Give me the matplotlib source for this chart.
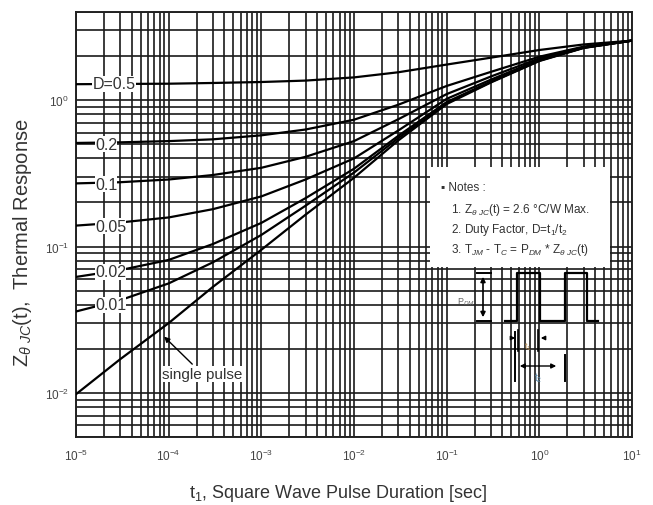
import matplotlib
matplotlib.use("Agg")
import matplotlib.pyplot as plt
from matplotlib.patches import Rectangle
from matplotlib.ticker import NullFormatter, LogLocator, FixedLocator

plt.rcParams['font.family'] = ['Liberation Sans', 'DejaVu Sans']
plt.rcParams['mathtext.fontset'] = 'custom'
plt.rcParams['mathtext.rm'] = 'Liberation Sans'
plt.rcParams['mathtext.it'] = 'Liberation Sans:italic'
plt.rcParams['mathtext.bf'] = 'Liberation Sans:bold'

##### data
t_sec = [1e-5, 3e-5, 1e-4, 3e-4, 1e-3, 3e-3, 1e-2, 3e-2, 1e-1, 3e-1, 1, 3, 10]

z_d50 = [1.285, 1.29, 1.295, 1.31, 1.33, 1.36, 1.43, 1.55, 1.75, 1.95, 2.2, 2.4, 2.55]
z_d20 = [0.51, 0.515, 0.525, 0.54, 0.575, 0.63, 0.735, 0.93, 1.25, 1.56, 1.98, 2.32, 2.55]
z_d10 = [0.27, 0.275, 0.287, 0.308, 0.345, 0.41, 0.525, 0.74, 1.1, 1.45, 1.93, 2.3, 2.55]
z_d05 = [0.139, 0.146, 0.158, 0.18, 0.22, 0.287, 0.40, 0.62, 1.02, 1.38, 1.89, 2.29, 2.55]
z_d02 = [0.062, 0.069, 0.081, 0.104, 0.145, 0.214, 0.34, 0.57, 0.97, 1.34, 1.87, 2.28, 2.55]
z_d01 = [0.036, 0.043, 0.056, 0.078, 0.12, 0.19, 0.32, 0.55, 0.955, 1.33, 1.86, 2.28, 2.55]
z_single = [0.0098, 0.017, 0.030, 0.053, 0.095, 0.165, 0.295, 0.53, 0.94, 1.32, 1.85, 2.27, 2.55]

curves = [z_d50, z_d20, z_d10, z_d05, z_d02, z_d01, z_single]

# curve labels: text, x, y (placed on the left ends of the curves)
label_text = ["D=0.5", "0.2", "0.1", "0.05", "0.02", "0.01"]
label_x = [1.5e-5, 1.6e-5, 1.6e-5, 1.6e-5, 1.6e-5, 1.6e-5]
label_y = [1.29, 0.50, 0.267, 0.138, 0.067, 0.040]

x_decades = [1e-5, 1e-4, 1e-3, 1e-2, 1e-1, 1, 10]
y_decades = [1e-2, 1e-1, 1]

fig = plt.figure(figsize=(6.53, 5.06), dpi=100)
ax = fig.add_axes([76 / 653, 1 - 438 / 506, 556 / 653, 425 / 506])
ax.set_xscale('log')
ax.set_yscale('log')
ax.set_xlim(1e-5, 10)
ax.set_ylim(5e-3, 4)

ax.xaxis.set_major_locator(FixedLocator(x_decades))
ax.yaxis.set_major_locator(FixedLocator(y_decades))
ax.xaxis.set_minor_locator(LogLocator(base=10, subs=range(2, 10), numticks=100))
ax.yaxis.set_minor_locator(LogLocator(base=10, subs=range(2, 10), numticks=100))
ax.xaxis.set_minor_formatter(NullFormatter())
ax.yaxis.set_minor_formatter(NullFormatter())

ax.grid(which='both', color='#1a1a1a', lw=1.2)
ax.tick_params(which='both', length=0, labelsize=8.5, labelcolor='#444')
ax.tick_params(axis='x', pad=8)
ax.tick_params(axis='y', pad=5)
for s in ax.spines.values():
    s.set_linewidth(1.4)
    s.set_color('#222')

for z in curves:
    ax.plot(t_sec, z, color='black', lw=1.6, zorder=3)

for txt, x, y in zip(label_text, label_x, label_y):
    ax.text(x, y, txt, fontsize=11.5, color='#333', ha='left', va='center', zorder=5,
            bbox=dict(facecolor='white', edgecolor='none', pad=0.2))

ax.annotate("single pulse", xy=(8.5e-5, 0.025), xytext=(2.3e-4, 0.0135),
            fontsize=11, color='#333', ha='center', va='center', zorder=5,
            bbox=dict(facecolor='white', edgecolor='none', pad=0.5),
            arrowprops=dict(arrowstyle='-|>', color='black', lw=1.0, mutation_scale=8))

ax.set_xlabel(r"t$_1$, Square Wave Pulse Duration [sec]", fontsize=13, color='#333')
ax.set_ylabel(r"Z$_{\theta\ JC}$(t),  Thermal Response", fontsize=14.5, color='#333')
ax.xaxis.set_label_coords(0.471, -0.105)
ax.yaxis.set_label_coords(-0.075, 0.46)


# pixel position in the picture -> axes fraction, for the notes and pulse sketch
def P(x, y):
    return ((x - 76) / 556, (438 - y) / 425)


tr = ax.transAxes
ax.add_patch(Rectangle(P(430, 268), 180 / 556, 100 / 425, transform=tr,
                       facecolor='white', edgecolor='none', zorder=4))
ax.text(*P(441, 188), "\u25aa Notes :", transform=tr, fontsize=8.5, color='#333', va='center', zorder=6)
ax.text(*P(451, 210), r"1. Z$_{\theta\ JC}$(t) = 2.6 °C/W Max.", transform=tr,
        fontsize=8.5, color='#333', va='center', zorder=6)
ax.text(*P(451, 230), r"2. Duty Factor, D=t$_1$/t$_2$", transform=tr,
        fontsize=8.5, color='#333', va='center', zorder=6)
ax.text(*P(451, 250), r"3. T$_{JM}$ - T$_C$ = P$_{DM}$ * Z$_{\theta\ JC}$(t)", transform=tr,
        fontsize=8.5, color='#333', va='center', zorder=6)

# pulse train sketch
px_x = [505, 517, 517, 540, 540, 565, 565, 587, 587, 598]
px_y = [322, 322, 274, 274, 322, 322, 274, 274, 322, 322]
pts = [P(a, b) for a, b in zip(px_x, px_y)]
ax.plot([p[0] for p in pts], [p[1] for p in pts], transform=tr, color='black', lw=1.6, zorder=6)

# P_DM dimension
ax.annotate("", xy=P(483, 275), xytext=P(483, 321), xycoords=tr, textcoords=tr,
            arrowprops=dict(arrowstyle='<|-|>', color='black', lw=1.2, mutation_scale=7), zorder=6)
for yy in (274, 322):
    a, b = P(477, yy), P(491, yy)
    ax.plot([a[0], b[0]], [a[1], b[1]], transform=tr, color='black', lw=1.4, zorder=6)
ax.text(*P(466, 302), r"P$_{DM}$", transform=tr, fontsize=6.5, color='#666',
        ha='center', va='center', zorder=6)

# t1 dimension
for xx in (518, 538):
    a, b = P(xx, 331), P(xx, 352)
    ax.plot([a[0], b[0]], [a[1], b[1]], transform=tr, color='black', lw=1.2, zorder=6)
ax.annotate("", xy=P(518, 339), xytext=P(509, 339), xycoords=tr, textcoords=tr,
            arrowprops=dict(arrowstyle='-|>', color='black', lw=1.0, mutation_scale=6), zorder=6)
ax.annotate("", xy=P(538, 339), xytext=P(547, 339), xycoords=tr, textcoords=tr,
            arrowprops=dict(arrowstyle='-|>', color='black', lw=1.0, mutation_scale=6), zorder=6)
ax.text(*P(528, 347), r"t$_1$", transform=tr, fontsize=6.5, color='#b08850',
        ha='center', va='center', zorder=6)

# t2 dimension
a, b = P(515, 333), P(515, 382)
ax.plot([a[0], b[0]], [a[1], b[1]], transform=tr, color='black', lw=1.4, zorder=6)
a, b = P(565, 356), P(565, 382)
ax.plot([a[0], b[0]], [a[1], b[1]], transform=tr, color='black', lw=1.4, zorder=6)
ax.annotate("", xy=P(559, 367), xytext=P(517, 367), xycoords=tr, textcoords=tr,
            arrowprops=dict(arrowstyle='<|-|>', color='black', lw=1.0, mutation_scale=7), zorder=6)
ax.text(*P(538, 378), r"t$_2$", transform=tr, fontsize=7, color='#5a88a8',
        ha='center', va='center', zorder=6)

fig.savefig("out.png", dpi=100)
